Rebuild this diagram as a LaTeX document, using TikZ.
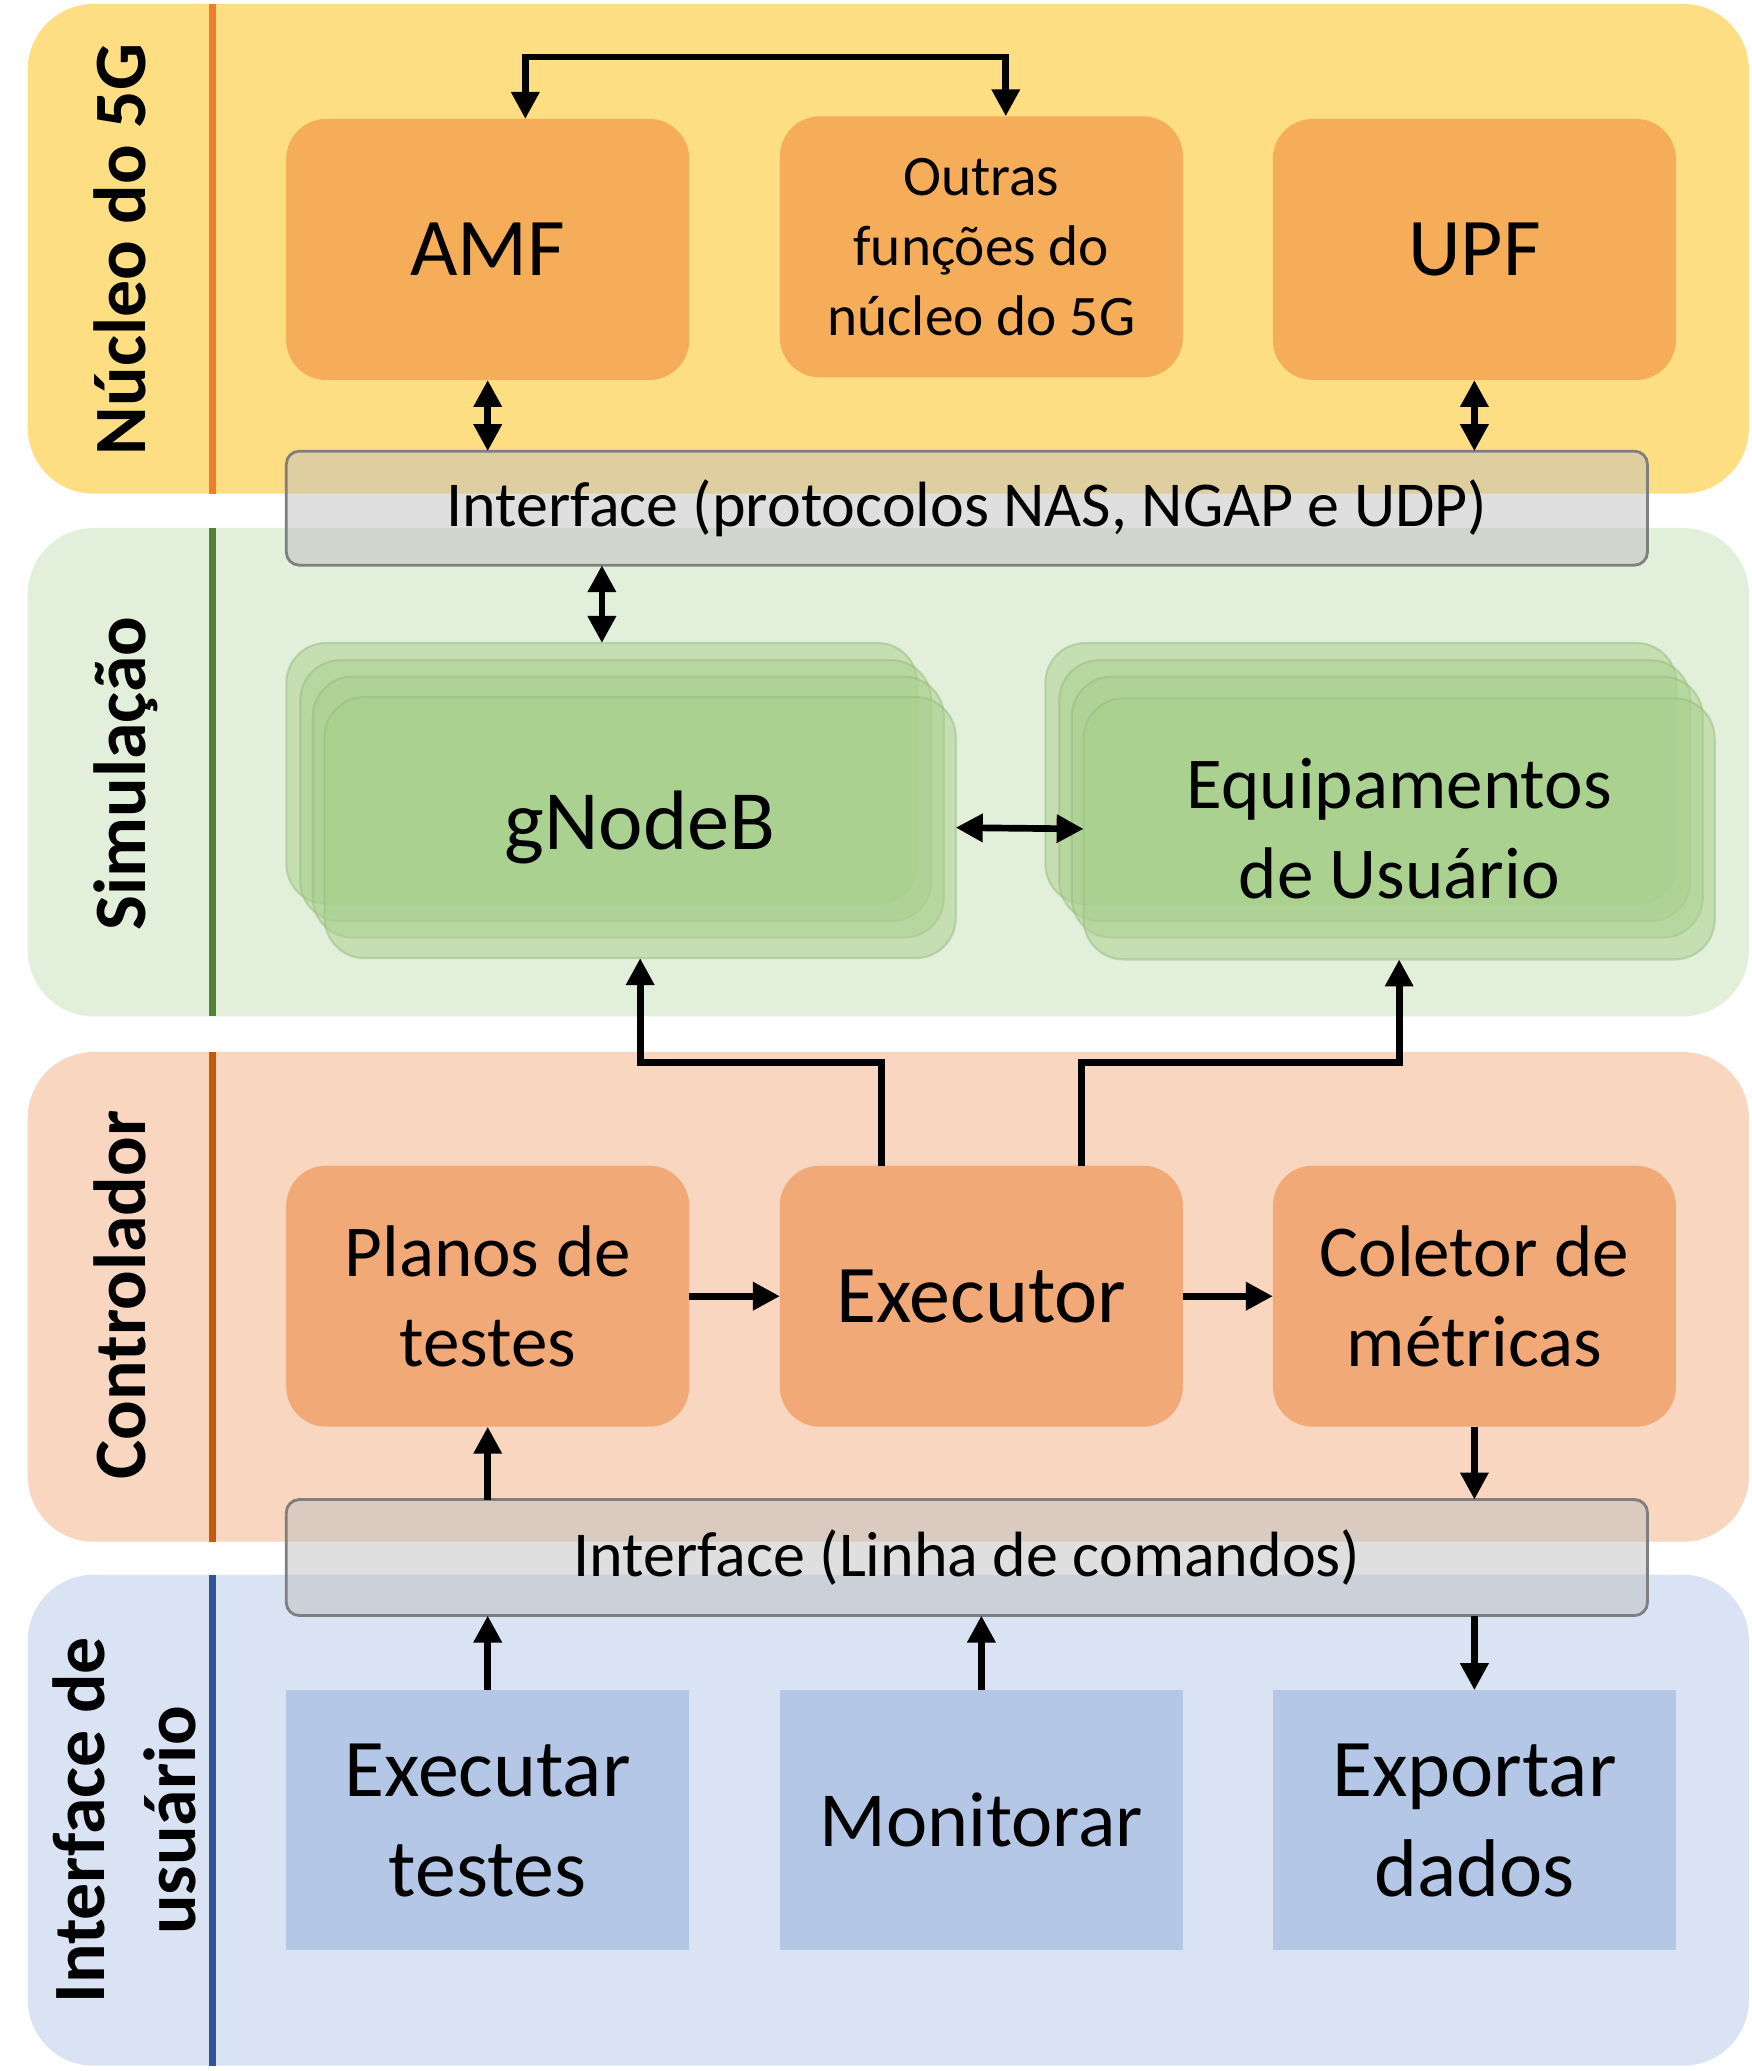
\documentclass[tikz,border=0pt]{standalone}
\usepackage{fontspec}
\setmainfont{Carlito}
\usetikzlibrary{arrows.meta}
\definecolor{bandcore}{HTML}{FEDE82}
\definecolor{bandsim}{HTML}{E2EFDA}
\definecolor{bandctrl}{HTML}{F8D6C0}
\definecolor{bandui}{HTML}{DAE3F3}
\definecolor{lncore}{HTML}{ED7D31}
\definecolor{lnsim}{HTML}{548235}
\definecolor{lnctrl}{HTML}{C55A11}
\definecolor{lnui}{HTML}{2F5597}
\definecolor{boxorange}{HTML}{ED7D31}
\definecolor{boxgreen}{HTML}{A9D18E}
\definecolor{boxblue}{HTML}{B4C7E7}
\definecolor{ifgray}{HTML}{BFBFBF}
\definecolor{ifline}{HTML}{7F7F7F}

\begin{document}
\begin{tikzpicture}[x=0.0132cm, y=-0.0132cm,
    sideline/.style={line width=2pt},
    sidelabel/.style={rotate=90, font=\fontsize{21}{26}\selectfont\bfseries, align=center},
    corebox/.style={fill=boxorange, fill opacity=0.5, text opacity=1, rounded corners=0.4cm,
        minimum width=4.03cm, minimum height=2.61cm, inner sep=0pt, outer sep=0pt, align=center},
    uibox/.style={fill=boxblue, minimum width=4.03cm, minimum height=2.60cm,
        inner sep=0pt, outer sep=0pt, align=center, font=\fontsize{23.3}{28.5}\selectfont},
    simbox/.style={fill=boxgreen, fill opacity=0.5, draw=boxgreen!90!black, draw opacity=0.5,
        text opacity=1, line width=0.6pt, rounded corners=0.4cm, minimum width=6.31cm,
        minimum height=2.61cm, inner sep=0pt, outer sep=0pt, align=center},
    ifbox/.style={fill=ifgray, fill opacity=0.5, text opacity=1, draw=ifline, line width=0.8pt,
        rounded corners=0.13cm, minimum width=13.61cm, inner sep=0pt, outer sep=0pt,
        font=\fontsize{18.2}{21}\selectfont},
    arr/.style={-{Triangle[length=0.27cm, width=0.27cm]}, line width=1.9pt},
    dblarr/.style={{Triangle[length=0.27cm, width=0.27cm]}-{Triangle[length=0.27cm, width=0.27cm]}, line width=1.9pt}
  ]
    \useasboundingbox (0,0) rectangle (1327,1569);

    % Draw the four layers
    \fill[bandcore, rounded corners=0.66cm] (21,3) rectangle (1325,374);
    \fill[bandsim, rounded corners=0.66cm] (21,400) rectangle (1325,770);
    \fill[bandctrl, rounded corners=0.66cm] (21,797) rectangle (1325,1168);
    \fill[bandui, rounded corners=0.66cm] (21,1193) rectangle (1325,1565);

    % Add the coloured lines on the left
    \draw[sideline, lncore] (161,3) -- (161,374);
    \draw[sideline, lnsim] (161,400) -- (161,770);
    \draw[sideline, lnctrl] (161,797) -- (161,1168);
    \draw[sideline, lnui] (161,1193) -- (161,1565);

    % Add the layer names
    \node[sidelabel, anchor=base] (lblcore) at (110,189) {Núcleo do 5G};
    \node[sidelabel, anchor=base] (lblsim) at (110,586) {Simulação};
    \node[sidelabel, anchor=base] (lblctrl) at (110,981) {Controlador};
    \node[sidelabel] (lblui) at (94,1379) {Interface de\\usuário};

    % Core functions
    \node[corebox, font=\fontsize{23.3}{28}\selectfont] (amf) at (369.5,189) {AMF};
    \node[corebox, font=\fontsize{16.3}{19.9}\selectfont] (oth) at (743.5,187) {Outras\\funções do\\núcleo do 5G};
    \node[corebox, font=\fontsize{23.3}{28}\selectfont] (upf) at (1117,189) {UPF};

    % Simulated gNodeB and user equipments
    \node[simbox] (gnb1) at (456,586) {};
    \node[simbox] (gnb2) at (466.5,599) {};
    \node[simbox] (gnb3) at (476,611.5) {};
    \node[simbox, font=\fontsize{24}{29}\selectfont] (gnb4) at (485,627) {gNodeB};
    \node[simbox] (ue1) at (1031,586) {};
    \node[simbox] (ue2) at (1041.5,599) {};
    \node[simbox] (ue3) at (1051,611.5) {};
    \node[simbox, font=\fontsize{20.8}{25.5}\selectfont] (ue4) at (1060,628) {Equipamentos\\de Usuário};

    % Controller parts
    \node[corebox, font=\fontsize{20.8}{25.5}\selectfont] (plan) at (369.5,982) {Planos de\\testes};
    \node[corebox, font=\fontsize{23.3}{28}\selectfont] (exec) at (743.5,982) {Executor};
    \node[corebox, font=\fontsize{20.8}{25.5}\selectfont] (col) at (1117,982) {Coletor de\\métricas};

    % User interface actions
    \node[uibox] (run) at (369.5,1379) {Executar\\testes};
    \node[uibox, font=\fontsize{22.2}{27}\selectfont] (mon) at (743.5,1379) {Monitorar};
    \node[uibox] (exp) at (1117,1379) {Exportar\\dados};

    % Interfaces between the layers
    \node[ifbox, minimum height=1.14cm] (if1) at (732.5,385) {Interface (protocolos NAS, NGAP e UDP)};
    \node[ifbox, minimum height=1.16cm] (if2) at (732.5,1180) {Interface (Linha de comandos)};

    % Arrows in the core
    \draw[dblarr] ([xshift=0.376cm]amf.north) -- ++(0,-47) -| ([xshift=0.244cm]oth.north);
    \draw[dblarr] (amf.south) -- (amf.south |- if1.north);
    \draw[dblarr] (upf.south) -- (upf.south |- if1.north);

    % Arrows in the simulation
    \draw[dblarr] (gnb1.north |- if1.south) -- (gnb1.north);
    \draw[dblarr] (gnb4.east) -- (ue4.west);

    % Arrows from the controller
    \draw[arr] ([xshift=-1cm]exec.north) -- ++(0,-78) -| (gnb4.south);
    \draw[arr] ([xshift=1cm]exec.north) -- ++(0,-78) -| (ue4.south);
    \draw[arr] (plan) -- (exec);
    \draw[arr] (exec) -- (col);
    \draw[arr] (plan.south |- if2.north) -- (plan.south);
    \draw[arr] (col.south) -- (col.south |- if2.north);

    % Arrows from the user interface
    \draw[arr] (run.north) -- (run.north |- if2.south);
    \draw[arr] (mon.north) -- (mon.north |- if2.south);
    \draw[arr] (exp.north |- if2.south) -- (exp.north);
\end{tikzpicture}
\end{document}
